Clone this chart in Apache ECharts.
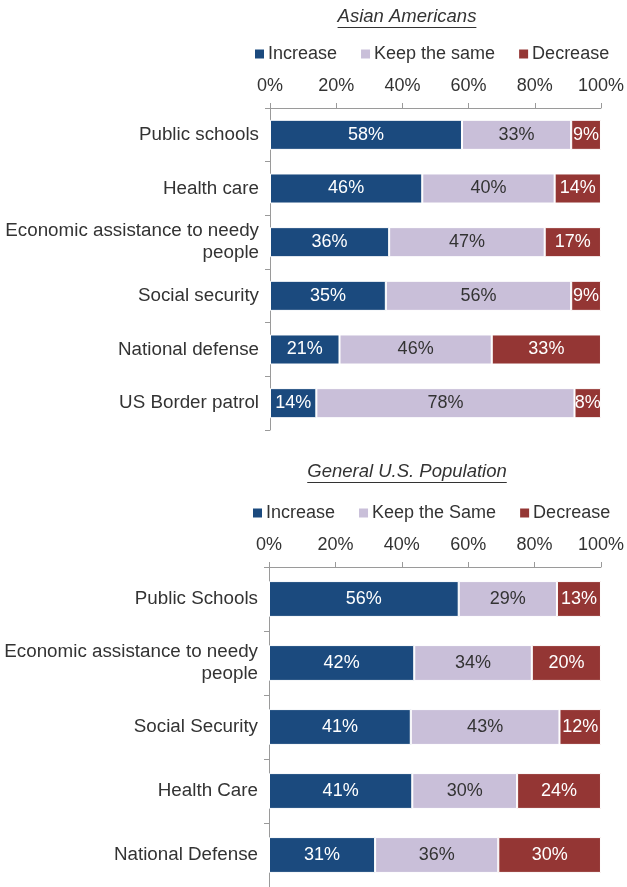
<!DOCTYPE html>
<html>
<head>
<meta charset="utf-8">
<script src="https://cdn.jsdelivr.net/npm/echarts@6/dist/echarts.min.js"></script>
<style>
  html, body { margin: 0; padding: 0; background: #fff; }
  #chart { width: 627px; height: 887px; }
</style>
</head>
<body>
<div id="chart"></div>
<script>
// Survey: should government spending increase, stay the same, or decrease?
const asianCategories = ['Public schools', 'Health care', 'Economic assistance to needy\npeople',
  'Social security', 'National defense', 'US Border patrol'];
const asianIncrease = [58, 46, 36, 35, 21, 14];
const asianSame = [33, 40, 47, 56, 46, 78];
const asianDecrease = [9, 14, 17, 9, 33, 8];

const usCategories = ['Public Schools', 'Economic assistance to needy\npeople', 'Social Security',
  'Health Care', 'National Defense'];
const usIncrease = [56, 42, 41, 41, 31];
const usSame = [29, 34, 43, 30, 36];
const usDecrease = [13, 20, 12, 24, 30];

const tickValues = [0, 20, 40, 60, 80, 100];

const FONT = '"Liberation Sans", Arial, sans-serif';
const TEXT = '#333333';
const AXIS = '#9a9a9a';
const C_INC = '#1b4a7e';
const C_SAME = '#c9bfd9';
const C_DEC = '#943634';

// 100% stacked: each segment's length is its share of the row total
function shares(parts, idx) {
  const totals = parts[0].map((_, i) => parts.reduce((s, p) => s + p[i], 0));
  return parts[idx].map((v, i) => ({ value: v / totals[i] * 100, raw: v }));
}

function makeSeries(name, parts, idx, color, labelColor, axisIdx) {
  return {
    name: name,
    type: 'bar',
    stack: 'total' + axisIdx,
    xAxisIndex: axisIdx,
    yAxisIndex: axisIdx,
    barWidth: '56%',
    data: shares(parts, idx),
    itemStyle: { color: color, borderColor: '#ffffff', borderWidth: 1 },
    label: {
      show: true,
      position: 'inside',
      color: labelColor,
      fontFamily: FONT,
      fontSize: 18,
      formatter: p => p.data.raw + '%'
    },
    emphasis: { disabled: true },
    animation: false
  };
}

function xAxisCfg(gridIndex) {
  return {
    gridIndex: gridIndex,
    type: 'value',
    position: 'top',
    min: 0,
    max: 100,
    interval: 20,
    axisLine: { show: true, lineStyle: { color: AXIS, width: 1 } },
    axisTick: { show: true, length: 5, lineStyle: { color: AXIS } },
    splitLine: { show: false },
    axisLabel: {
      color: TEXT, fontFamily: FONT, fontSize: 18, margin: 13,
      formatter: v => tickValues.includes(v) ? v + '%' : ''
    }
  };
}

function yAxisCfg(gridIndex, cats) {
  return {
    gridIndex: gridIndex,
    type: 'category',
    inverse: true,
    data: cats,
    axisLine: { show: true, lineStyle: { color: AXIS, width: 1 } },
    axisTick: { show: true, length: 5, lineStyle: { color: AXIS } },
    axisLabel: {
      color: TEXT, fontFamily: FONT, fontSize: 18.8, margin: 11,
      lineHeight: 22, align: 'right'
    }
  };
}

// Underlined italic panel title
const measureCtx = document.createElement('canvas').getContext('2d');
function underlinedTitle(text, cx, cy) {
  const font = 'italic 18.5px ' + FONT;
  measureCtx.font = font;
  const w = measureCtx.measureText(text).width;
  return {
    type: 'group',
    children: [
      {
        type: 'text',
        x: cx, y: cy,
        style: {
          text: text, fill: TEXT, font: font,
          align: 'center', verticalAlign: 'middle'
        }
      },
      {
        type: 'line',
        shape: { x1: cx - w / 2, y1: cy + 10.5, x2: cx + w / 2, y2: cy + 10.5 },
        style: { stroke: TEXT, lineWidth: 1 }
      }
    ]
  };
}

const legendBase = {
  orient: 'horizontal',
  icon: 'rect',
  itemWidth: 11,
  itemHeight: 11,
  itemGap: 22,
  selectedMode: false,
  textStyle: { color: TEXT, fontFamily: FONT, fontSize: 18, padding: [0, 0, 0, -2] }
};

const asianParts = [asianIncrease, asianSame, asianDecrease];
const usParts = [usIncrease, usSame, usDecrease];

const chart = echarts.init(document.getElementById('chart'), null, { renderer: 'canvas' });
chart.setOption({
  backgroundColor: '#ffffff',
  animation: false,
  graphic: [
    underlinedTitle('Asian Americans', 407, 17),
    underlinedTitle('General U.S. Population', 407, 472)
  ],
  legend: [
    Object.assign({}, legendBase, {
      left: 248, top: 40,
      data: ['Increase', 'Keep the same', 'Decrease']
    }),
    Object.assign({}, legendBase, {
      left: 246, top: 499,
      data: ['Increase', 'Keep the Same', 'Decrease']
    })
  ],
  grid: [
    { left: 270, right: 25, top: 108, height: 322 },
    { left: 269, right: 26, top: 567, height: 320 }
  ],
  xAxis: [xAxisCfg(0), xAxisCfg(1)],
  yAxis: [yAxisCfg(0, asianCategories), yAxisCfg(1, usCategories)],
  series: [
    makeSeries('Increase', asianParts, 0, C_INC, '#ffffff', 0),
    makeSeries('Keep the same', asianParts, 1, C_SAME, TEXT, 0),
    makeSeries('Decrease', asianParts, 2, C_DEC, '#ffffff', 0),
    makeSeries('Increase', usParts, 0, C_INC, '#ffffff', 1),
    makeSeries('Keep the Same', usParts, 1, C_SAME, TEXT, 1),
    makeSeries('Decrease', usParts, 2, C_DEC, '#ffffff', 1)
  ]
});
</script>
</body>
</html>
